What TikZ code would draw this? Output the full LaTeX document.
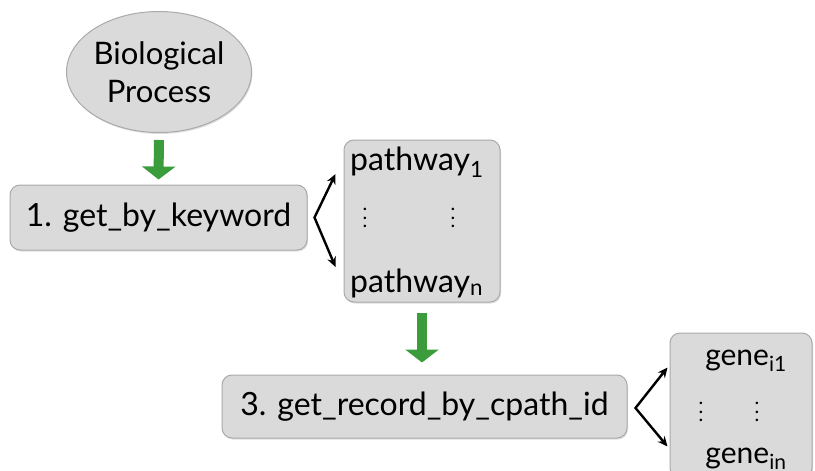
\documentclass[tikz,border=0pt]{standalone}
\usepackage{fontspec}
\setmainfont{Lato}
\usepackage{tikz}
\usetikzlibrary{positioning,shapes.geometric,arrows.meta,shadows}

\definecolor{boxfill}{RGB}{218,218,218}
\definecolor{boxline}{RGB}{170,170,170}
\definecolor{flowgreen}{RGB}{58,156,58}

\newcommand{\tallvdots}{\vbox{\baselineskip=8.5pt\lineskiplimit=0pt\hbox{.}\hbox{.}\hbox{.}}}

\tikzset{
  stepbox/.style={draw=boxline, fill=boxfill, line width=1pt, rounded corners=10pt,
    drop shadow={opacity=0.25, shadow xshift=1pt, shadow yshift=-1.5pt}},
  procell/.style={ellipse, draw=boxline, fill=boxfill, line width=1pt,
    drop shadow={opacity=0.25, shadow xshift=1pt, shadow yshift=-1.5pt}},
  flow/.style={draw=flowgreen, line width=10pt, -{Triangle[width=33pt,length=13pt]}},
  fork/.style={line width=2.4pt, {Stealth[length=10pt,width=9pt]}-{Stealth[length=10pt,width=9pt]}},
  lbl/.style={font=\fontsize{32}{36}\selectfont, inner sep=0pt},
  dotlbl/.style={font=\fontsize{20}{24}\selectfont, inner sep=0pt}
}

\begin{document}
\begin{tikzpicture}[x=1pt, y=-1pt]
  \useasboundingbox[fill=white] (0,0) rectangle (815,471);
  % Define nodes
  \node[procell, minimum width=185pt, minimum height=121pt, align=center, inner sep=0pt,
        font=\fontsize{31}{38}\selectfont] (bp) at (159,72) {Biological\\Process};
  \node[stepbox, minimum width=297pt, minimum height=65pt, lbl] (kw) at (158.5,217.5) {1. get\_by\_keyword};
  \node[stepbox, minimum width=156pt, minimum height=162pt] (pw) at (422,221) {};
  \node[stepbox, minimum width=405pt, minimum height=63pt, lbl] (rec) at (424.5,406.5) {3. get\_record\_by\_cpath\_id};
  \node[stepbox, minimum width=142pt, minimum height=145pt] (gn) at (741,405.5) {};
  % texts inside the result boxes
  \node[lbl, anchor=base west] (pw1) at (350,170) {pathway\textsubscript{1}};
  \node[lbl, anchor=base west] (pwn) at (350,292) {pathway\textsubscript{n}};
  \node[dotlbl] (pwdl) at (365,218) {\tallvdots};
  \node[dotlbl] (pwdr) at (453,218) {\tallvdots};
  \node[lbl, font=\fontsize{30}{34}\selectfont, anchor=base] (gn1) at (746,365) {gene\textsubscript{i1}};
  \node[lbl, font=\fontsize{30}{34}\selectfont, anchor=base] (gnn) at (746,463) {gene\textsubscript{in}};
  \node[dotlbl] (gndl) at (701,412) {\tallvdots};
  \node[dotlbl] (gndr) at (757,412) {\tallvdots};
  % connectors
  \draw[flow, shorten <=7pt, shorten >=5pt] (bp.south) -- (kw.north);
  \draw[flow, shorten <=10pt, shorten >=12pt] (pw.south) -- (rec.north -| pw.south);
  \coordinate (kwv) at ([xshift=7pt]kw.east);
  \coordinate (recv) at ([xshift=8pt,yshift=-1.5pt]rec.east);
  \draw[fork] ([shift={(-8,-47)}]pw.west) -- (kwv) -- ([shift={(-8,46)}]pw.west);
  \draw[fork] ([shift={(-2,-38)}]gn.west) -- (recv) -- ([shift={(-2,41)}]gn.west);
\end{tikzpicture}
\end{document}
